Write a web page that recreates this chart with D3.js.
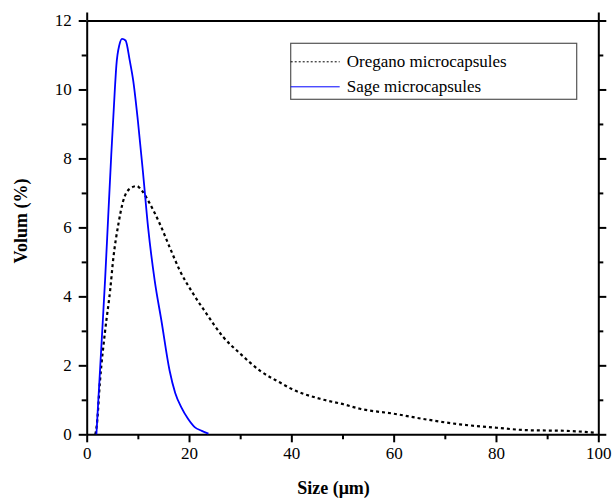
<!DOCTYPE html>
<meta charset="utf-8">
<html>
<head>
<script src="https://d3js.org/d3.v7.min.js"></script>
<style>
  body { margin: 0; background: #fff; }
</style>
</head>
<body>
<div id="chart"></div>
<script>
    // particle size distributions
    const sageSize = [1.9, 3.0, 3.6, 4.2, 4.8, 5.5, 5.8, 6.4, 6.9, 7.6, 8.4, 9.1, 10.0, 11.0, 12.0, 13.3, 14.6, 16.2, 17.3, 18.5, 19.8, 21.1, 22.5, 23.8];
    const sageVol = [0, 2.9, 4.5, 6.3, 8.1, 10.0, 10.7, 11.3, 11.47, 11.42, 10.85, 10.25, 9.1, 7.6, 6.0, 4.45, 3.3, 1.85, 1.2, 0.78, 0.45, 0.21, 0.1, 0.02];

    const oreganoSize = [1.7, 2.0, 2.6, 3.6, 4.6, 5.2, 6.2, 7.1, 8.4, 9.8, 10.7, 12.3, 14.3, 16.2, 18.2, 20.8, 23.4, 26.7, 30, 33.9, 37.8, 40, 45.6, 50.2, 53.4, 59.9, 66.4, 72.9, 80.1, 86, 93.8, 99.7];
    const oreganoVol = [0, 0.3, 1.55, 3.0, 4.2, 5.1, 6.1, 6.75, 7.12, 7.2, 7.08, 6.7, 6.1, 5.43, 4.75, 4.08, 3.5, 2.82, 2.34, 1.84, 1.5, 1.32, 1.03, 0.87, 0.74, 0.6, 0.43, 0.29, 0.19, 0.12, 0.1, 0.04];

    const xTicks = [0, 20, 40, 60, 80, 100];
    const yTicks = [0, 2, 4, 6, 8, 10, 12];
    const seriesNames = ["Oregano microcapsules", "Sage microcapsules"];

    const FONT = "Liberation Serif";
    const W = 614, H = 501;
    const margin = { top: 20.5, right: 15.7, bottom: 66.7, left: 86.7 },
        width = W - margin.left - margin.right,
        height = H - margin.top - margin.bottom;

    const svg = d3.select("#chart")
        .append("svg")
        .attr("width", W)
        .attr("height", H)
        .append("g")
        .attr("transform", `translate(${margin.left},${margin.top})`);

    const x = d3.scaleLinear().domain([0, 100]).range([0, width]);
    const y = d3.scaleLinear().domain([0, 12]).range([height, 0]);

    // axes: major ticks labelled, minor ticks in between
    function styleAxis(g) {
        g.attr("font-family", FONT).attr("font-size", 17);
        g.select(".domain").attr("stroke", "#000").attr("stroke-width", 2);
        g.selectAll(".tick line").attr("stroke", "#000").attr("stroke-width", 2);
        g.selectAll(".tick text").attr("fill", "#000");
    }

    const xMinor = d3.range(10, 100, 20);
    const yMinor = d3.range(1, 12, 2);

    svg.append("g")
        .attr("transform", `translate(0,${height})`)
        .call(d3.axisBottom(x).tickValues(xTicks).tickSize(8).tickSizeOuter(0).tickPadding(5))
        .call(styleAxis);
    svg.append("g")
        .attr("transform", `translate(0,${height})`)
        .call(d3.axisBottom(x).tickValues(xMinor).tickSize(5).tickFormat(""))
        .call(g => g.select(".domain").remove())
        .call(styleAxis);

    svg.append("g")
        .call(d3.axisLeft(y).tickValues(yTicks).tickSize(8).tickSizeOuter(0).tickPadding(7))
        .call(styleAxis);
    svg.append("g")
        .call(d3.axisLeft(y).tickValues(yMinor).tickSize(5).tickFormat(""))
        .call(g => g.select(".domain").remove())
        .call(styleAxis);

    svg.append("g")
        .attr("transform", `translate(${width},0)`)
        .call(d3.axisRight(y).tickValues(yTicks).tickSize(8).tickSizeOuter(0).tickFormat(""))
        .call(styleAxis);
    svg.append("g")
        .attr("transform", `translate(${width},0)`)
        .call(d3.axisRight(y).tickValues(yMinor).tickSize(5).tickFormat(""))
        .call(g => g.select(".domain").remove())
        .call(styleAxis);

    svg.append("g")
        .call(d3.axisTop(x).tickValues([0, 100]).tickSize(8).tickSizeOuter(0).tickFormat(""))
        .call(styleAxis);

    // curves
    const line = d3.line()
        .x(d => x(d[0]))
        .y(d => y(d[1]))
        .curve(d3.curveMonotoneX);

    const oregano = oreganoSize.map((s, i) => [s, oreganoVol[i]]);
    const sage = sageSize.map((s, i) => [s, sageVol[i]]);

    svg.append("path")
        .datum(oregano)
        .attr("d", line)
        .attr("fill", "none")
        .attr("stroke", "#000")
        .attr("stroke-width", 2.2)
        .attr("stroke-dasharray", "3,3");

    svg.append("path")
        .datum(sage)
        .attr("d", line)
        .attr("fill", "none")
        .attr("stroke", "#0000ff")
        .attr("stroke-width", 1.8);

    // legend
    const lx = 290.7 - margin.left, ly = 43.3 - margin.top;
    svg.append("rect")
        .attr("x", lx).attr("y", ly)
        .attr("width", 286).attr("height", 56)
        .attr("fill", "#fff")
        .attr("stroke", "#555")
        .attr("stroke-width", 1.2);

    const legStyles = [
        { stroke: "#000", dash: "2,2", w: 1 },
        { stroke: "#0000ff", dash: null, w: 1 }
    ];
    seriesNames.forEach((name, i) => {
        const yy = ly + 18.5 + i * 25;
        svg.append("line")
            .attr("x1", lx).attr("x2", lx + 49)
            .attr("y1", yy).attr("y2", yy)
            .attr("stroke", legStyles[i].stroke)
            .attr("stroke-width", legStyles[i].w)
            .attr("stroke-dasharray", legStyles[i].dash);
        svg.append("text")
            .attr("x", lx + 56).attr("y", yy + 5.5)
            .attr("font-family", FONT)
            .attr("font-size", 17)
            .text(name);
    });

    // axis titles
    svg.append("text")
        .attr("x", width / 2 - 9)
        .attr("y", height + 60)
        .attr("text-anchor", "middle")
        .attr("font-family", FONT)
        .attr("font-size", 18)
        .attr("font-weight", "bold")
        .text("Size (μm)");

    svg.append("text")
        .attr("transform", `translate(${27 - margin.left},${221 - margin.top}) rotate(-90)`)
        .attr("text-anchor", "middle")
        .attr("font-family", FONT)
        .attr("font-size", 18)
        .attr("font-weight", "bold")
        .text("Volum (%)");
</script>
</body>
</html>
